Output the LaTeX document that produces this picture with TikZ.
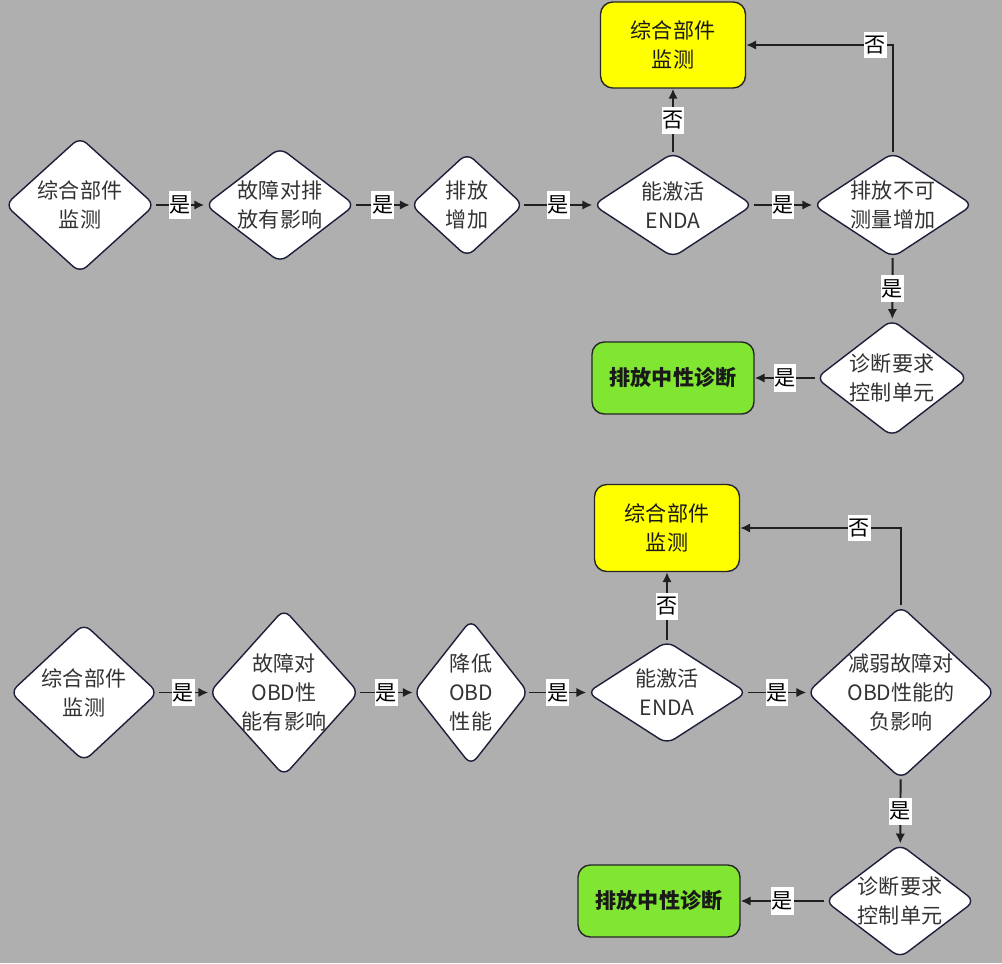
\documentclass[tikz,border=0pt]{standalone}
\usepackage{fontspec}
\newfontfamily\cjk{Noto Sans CJK SC}
\usetikzlibrary{shapes.geometric,arrows.meta}
\definecolor{bggray}{HTML}{AFAFAF}
\definecolor{boxline}{HTML}{1C1F3A}
\definecolor{arrline}{HTML}{202020}
\definecolor{boxyellow}{HTML}{FFFF00}
\definecolor{boxgreen}{HTML}{80E632}
\begin{document}
\begin{tikzpicture}[
    font=\cjk\fontsize{12}{16.5}\selectfont,
    dia/.style={diamond, draw=boxline, line width=0.8pt, fill=white, rounded corners=5pt,
        inner sep=-2pt, align=center, text=black!80},
    rbox/.style={rectangle, draw=black!85, line width=0.8pt, rounded corners=7pt, align=center, text=black!90},
    arr/.style={draw=arrline, line width=1.1pt, -{Latex[length=2mm,width=1.9mm]}},
    lbl/.style={fill=white, inner xsep=0.5pt, inner ysep=2.5pt, text=black}
]
\fill[bggray] (0,0) rectangle (20.04,-19.26);
\useasboundingbox (0,0) rectangle (20.04,-19.26);

% upper chart
\node (d1) at (1.6, -4.1) [dia, minimum width=3cm, minimum height=2.72cm, shape aspect=1] {综合部件\\监测};
\node (d2) at (5.6, -4.1) [dia, minimum width=3cm, minimum height=2.3cm, shape aspect=1.4] {故障对排\\放有影响};
\node (d3) at (9.34, -4.1) [dia, minimum width=2.26cm, minimum height=2.08cm, shape aspect=1] {排放\\增加};
\node (d4) at (13.46, -4.1) [dia, minimum width=3.2cm, minimum height=2.1cm, shape aspect=1.5] {能激活\\ENDA};
\node (d5) at (17.86, -4.1) [dia, minimum width=3.2cm, minimum height=2.1cm, shape aspect=1.5] {排放不可\\测量增加};
\node (y1) at (13.46, -0.9) [rbox, fill=boxyellow, minimum width=2.9cm, minimum height=1.72cm] {综合部件\\监测};
\node (d6) at (17.84, -7.56) [dia, minimum width=3.04cm, minimum height=2.34cm, shape aspect=1.3] {诊断要求\\控制单元};
\node (g1) at (13.46, -7.56) [rbox, fill=boxgreen, minimum width=3.24cm, minimum height=1.44cm, font=\cjk\fontsize{12}{16}\selectfont\bfseries] {排放中性诊断};

\draw[arr] (d1) -- node[lbl] {是} (d2);
\draw[arr] (d2) -- node[lbl] {是} (d3);
\draw[arr] (d3) -- node[lbl] {是} (d4);
\draw[arr] (d4) -- node[lbl] {是} (d5);
\draw[arr] (d4.north) -- node[lbl] {否} (y1.south);
\draw[arr] (d5.north) |- node[lbl, pos=0.56] {否} (y1.east);
\draw[arr] (d5) -- node[lbl] {是} (d6);
\draw[arr] (d6) -- node[lbl] {是} (g1);

% lower chart
\node (e1) at (1.68, -13.85) [dia, minimum width=2.96cm, minimum height=2.76cm, shape aspect=1] {综合部件\\监测};
\node (e2) at (5.68, -13.85) [dia, minimum width=3cm, minimum height=3.34cm, shape aspect=0.9] {故障对\\OBD性\\能有影响};
\node (e3) at (9.42, -13.85) [dia, minimum width=2.3cm, minimum height=2.92cm, shape aspect=0.8] {降低\\OBD\\性能};
\node (e4) at (13.34, -13.85) [dia, minimum width=3.2cm, minimum height=2.06cm, shape aspect=1.5] {能激活\\ENDA};
\node (e5) at (18.02, -13.85) [dia, minimum width=3.76cm, minimum height=3.46cm, shape aspect=1.1] {减弱故障对\\OBD性能的\\负影响};
\node (y2) at (13.34, -10.56) [rbox, fill=boxyellow, minimum width=2.9cm, minimum height=1.74cm] {综合部件\\监测};
\node (e6) at (18.0, -18.02) [dia, minimum width=3cm, minimum height=2.28cm, shape aspect=1.35] {诊断要求\\控制单元};
\node (g2) at (13.18, -18.02) [rbox, fill=boxgreen, minimum width=3.24cm, minimum height=1.44cm, font=\cjk\fontsize{12}{16}\selectfont\bfseries] {排放中性诊断};

\draw[arr] (e1) -- node[lbl] {是} (e2);
\draw[arr] (e2) -- node[lbl] {是} (e3);
\draw[arr] (e3) -- node[lbl] {是} (e4);
\draw[arr] (e4) -- node[lbl] {是} (e5);
\draw[arr] (e4.north) -- node[lbl] {否} (y2.south);
\draw[arr] (e5.north) |- node[lbl, pos=0.63] {否} (y2.east);
\draw[arr] (e5) -- node[lbl] {是} (e6);
\draw[arr] (e6) -- node[lbl] {是} (g2);
\end{tikzpicture}
\end{document}
